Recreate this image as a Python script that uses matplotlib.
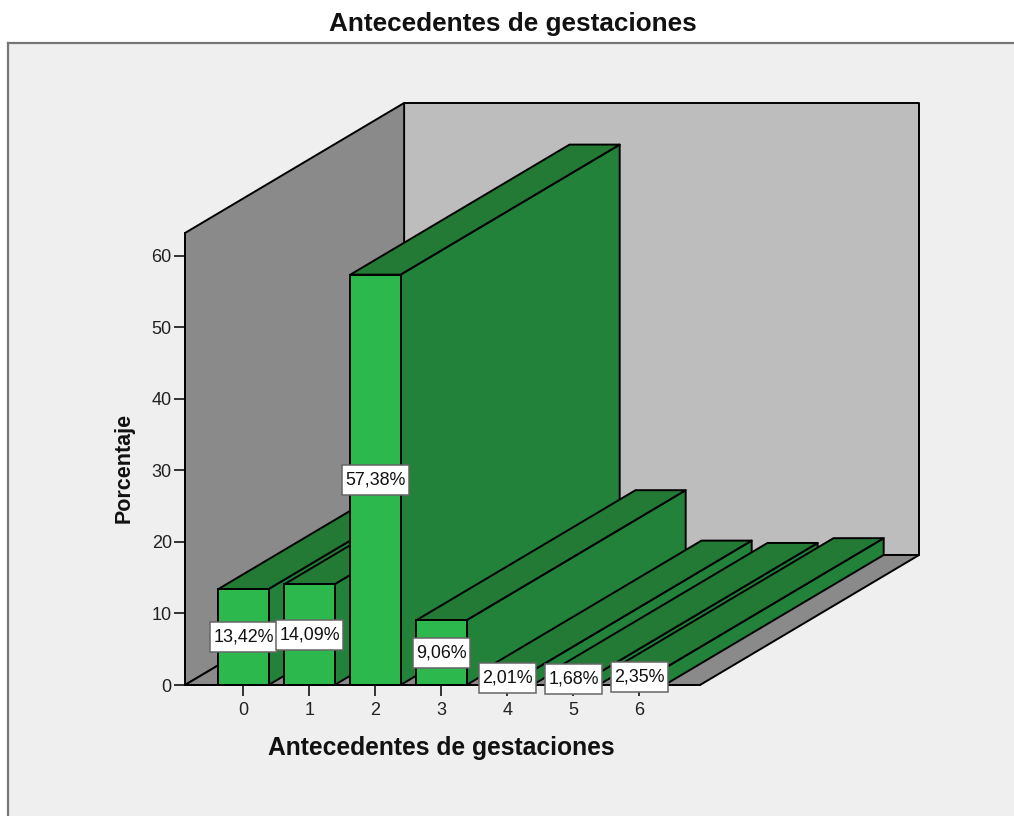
import matplotlib
matplotlib.use('Agg')
import matplotlib.pyplot as plt
from matplotlib.patches import Polygon, Rectangle
from matplotlib.lines import Line2D

# ---------- Data ----------
categories = ['0', '1', '2', '3', '4', '5', '6']
values = [13.42, 14.09, 57.38, 9.06, 2.01, 1.68, 2.35]
labels = ['13,42%', '14,09%', '57,38%', '9,06%', '2,01%', '1,68%', '2,35%']
y_ticks = [0, 10, 20, 30, 40, 50, 60]

# ---------- Basic Params ----------
W, H = 1014, 816
x_min, x_max = -0.886, 6.917
y_max = 63.2
depth_x = 3.32   # depth of the box, in category units
depth_y = 18.18  # depth of the box, in percent units
bar_w = 0.76

plt.rcParams['font.family'] = ['Liberation Sans', 'DejaVu Sans']

fig = plt.figure(figsize=(W/100, H/100), dpi=100, facecolor='white')

# grey panel with the frame on top and left
fig.add_artist(Rectangle((8/W, 0), 1, 1-43/H, transform=fig.transFigure, facecolor='#efefef', edgecolor='none', zorder=-2))
fig.add_artist(Line2D([8/W, 1], [1-43/H, 1-43/H], color='#777777', lw=1.6, zorder=-1))
fig.add_artist(Line2D([8/W, 8/W], [0, 1-43/H], color='#777777', lw=1.6, zorder=-1))

ax = fig.add_axes([185/W, 1-685/H, 515/W, 452/H])
ax.patch.set_visible(False)
ax.set_xlim(x_min, x_max)
ax.set_ylim(0, y_max)

edge = dict(edgecolor='black', linewidth=1.4, joinstyle='round', clip_on=False)

# ---------- Walls and floor ----------
ax.add_patch(Polygon([(x_min+depth_x, depth_y), (x_max+depth_x, depth_y), (x_max+depth_x, depth_y+y_max), (x_min+depth_x, depth_y+y_max)],
                     facecolor='#bdbdbd', zorder=1, **edge))
ax.add_patch(Polygon([(x_min, 0), (x_min+depth_x, depth_y), (x_min+depth_x, depth_y+y_max), (x_min, y_max)],
                     facecolor='#8a8a8a', zorder=1, **edge))
ax.add_patch(Polygon([(x_min, 0), (x_max, 0), (x_max+depth_x, depth_y), (x_min+depth_x, depth_y)],
                     facecolor='#8a8a8a', zorder=1, **edge))

# ---------- Bars, left to right so the nearer ones cover the sides ----------
for i, v in enumerate(values):
    z = 2 + i
    left, right = i - bar_w/2, i + bar_w/2
    ax.add_patch(Polygon([(right, 0), (right+depth_x, depth_y), (right+depth_x, v+depth_y), (right, v)],
                         facecolor='#22823a', zorder=z, **edge))
    ax.add_patch(Polygon([(left, v), (right, v), (right+depth_x, v+depth_y), (left+depth_x, v+depth_y)],
                         facecolor='#237a35', zorder=z, **edge))
    ax.bar(i, v, width=bar_w, color='#2db84d', edgecolor='black', linewidth=1.4, zorder=z, clip_on=False)

# ---------- Value labels, box sized from the text ----------
renderer = fig.canvas.get_renderer()
to_data = ax.transData.inverted()
for i, v in enumerate(values):
    t = ax.text(i, v/2, labels[i], ha='center', va='center', fontsize=12.9, color='#111111', zorder=21)
    bb = t.get_window_extent(renderer)
    cx, cy = ax.transData.transform((i, v/2))
    x0, y0 = to_data.transform((bb.x0-3, cy-15))
    x1, y1 = to_data.transform((bb.x1+3, cy+15))
    ax.add_patch(Rectangle((x0, y0), x1-x0, y1-y0, facecolor='white', edgecolor='#666666', linewidth=1.1, zorder=20, clip_on=False))

# ---------- Axes ----------
for s in ['top', 'right']:
    ax.spines[s].set_visible(False)
for s in ['left', 'bottom']:
    ax.spines[s].set_linewidth(1.4)
    ax.spines[s].set_zorder(15)
ax.set_xticks(range(len(categories)))
ax.set_xticklabels(categories)
ax.set_yticks(y_ticks)
ax.tick_params(axis='both', length=8, width=1.1, labelsize=13, labelcolor='#222222')
ax.tick_params(axis='x', pad=4)
ax.tick_params(axis='y', pad=1.5)

fig.text(513/W, 1-24/H, 'Antecedentes de gestaciones', ha='center', va='center', fontsize=18.8, fontweight='bold', color='#111111')
fig.text(441/W, 1-748/H, 'Antecedentes de gestaciones', ha='center', va='center', fontsize=17.7, fontweight='bold', color='#111111')
fig.text(124/W, 1-468/H, 'Porcentaje', ha='center', va='center', rotation=90, fontsize=15.5, fontweight='bold', color='#111111')

fig.savefig('out.png', dpi=100)
